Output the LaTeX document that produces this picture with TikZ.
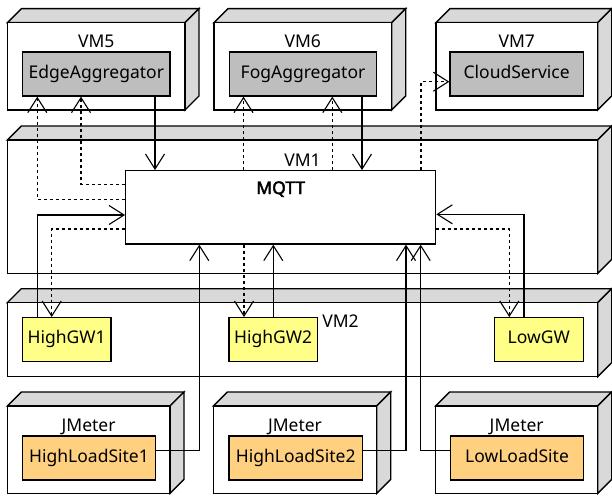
\documentclass[tikz,border=0pt]{standalone}
\usepackage{fontspec}
\setmainfont{Noto Sans}
\newfontfamily\mqttbold{Noto Sans}[FakeBold=2.6]
\usetikzlibrary{arrows.meta}
\definecolor{sidegray}{RGB}{217,217,217}
\definecolor{compgray}{RGB}{190,190,190}
\definecolor{gwyellow}{RGB}{255,255,136}
\definecolor{siteorange}{RGB}{255,208,128}
\tikzset{
  boxline/.style={draw=black, line width=1.4pt, line join=miter},
  comp/.style={draw=black, line width=1.3pt, inner sep=0pt, text height=26pt, text depth=18pt, minimum height=44pt},
  lbl/.style={anchor=base, inner sep=0pt},
  tip/.style={-{Straight Barb[length=15pt,width=19pt,line width=1.1pt]}},
  flow/.style={tip, draw=black, line width=1.2pt},
  dep/.style={tip, draw=black, line width=1.1pt, dash pattern=on 3pt off 3pt},
}
\newcommand\vmbox[5]{%
  \filldraw[boxline, fill=sidegray] (#1,#2) -- (#1+14,#2-14) -- (#3+14,#2-14) -- (#3,#2) -- cycle;
  \filldraw[boxline, fill=sidegray] (#3,#2) -- (#3+14,#2-14) -- (#3+14,#4-14) -- (#3,#4) -- cycle;
  \filldraw[boxline, fill=white] (#1,#2) rectangle (#3,#4);
  \coordinate (#5) at ({(#1+#3)/2},{(#2+#4)/2});
}
\newcommand\comp[7]{%
  \node[comp, fill=#6, minimum width={(#4-#2)*1pt}] (#1) at ({(#2+#4)/2},{(#3+#5)/2}) {#7};
}
\begin{document}
\begin{tikzpicture}[x=1pt,y=-1pt, font=\fontsize{17.5}{20}\selectfont]
\useasboundingbox (0,0) rectangle (612,495);

% containers
\vmbox{7.5}{22.7}{185}{110}{vmfive}
\vmbox{214}{22.7}{391.7}{110}{vmsix}
\vmbox{436}{22.7}{597.7}{110}{vmseven}
\vmbox{7.3}{140}{597.7}{273.3}{vmone}
\vmbox{7.3}{302.7}{597.7}{376.7}{vmtwo}
\vmbox{7.3}{406}{170}{493.3}{jmone}
\vmbox{213.3}{406}{376.7}{493.3}{jmtwo}
\vmbox{435.7}{406}{597.7}{493.3}{jmthree}

% container labels
\node[lbl] (lvm5) at (96.2,47.5) {VM5};
\node[lbl] (lvm6) at (302.8,47.5) {VM6};
\node[lbl] (lvm7) at (516.8,47.5) {VM7};
\node[lbl] (lvm1) at (302.5,166.5) {VM1};
\node[lbl] (lvm2) at (340.5,327.7) {VM2};
\node[lbl] (ljm1) at (88.6,431.3) {JMeter};
\node[lbl] (ljm2) at (295,431.3) {JMeter};
\node[lbl] (ljm3) at (516.7,431.3) {JMeter};

% components
\comp{edge}{22.7}{52}{170}{96}{compgray}{EdgeAggregator}
\comp{fog}{229.3}{52}{376.7}{96}{compgray}{FogAggregator}
\comp{cloud}{450}{52}{583.3}{96}{compgray}{CloudService}
\node[draw=black, line width=1.3pt, fill=white, minimum width=310pt, minimum height=73.3pt, inner sep=0pt] (mqtt) at (280.7,207.35) {};
\node[lbl, font=\fontsize{17.5}{20}\mqttbold] (mqttlbl) at (280.7,194) {MQTT};
\comp{hgw1}{22.3}{317.7}{111}{361.7}{gwyellow}{HighGW1}
\comp{hgw2}{229}{317.7}{317.3}{361.7}{gwyellow}{HighGW2}
\comp{lgw}{494.3}{317.7}{583.3}{361.7}{gwyellow}{LowGW}
\comp{hls1}{22.3}{436}{155.7}{480}{siteorange}{HighLoadSite1}
\comp{hls2}{229}{436}{362.3}{480}{siteorange}{HighLoadSite2}
\comp{lls}{450.7}{436}{583.3}{480}{siteorange}{LowLoadSite}

% connectors
\draw[dep] (mqtt.west |- 0,199.3) -| (edge.south -| 37.3,0);
\draw[dep] (mqtt.west |- 0,184.3) -| (edge.south -| 81,0);
\draw[flow] (edge.south -| 155,0) -- (mqtt.north -| 155,0);
\draw[dep] (mqtt.north -| 243.5,0) -- (fog.south -| 243.5,0);
\draw[dep] (mqtt.north -| 332.3,0) -- (fog.south -| 332.3,0);
\draw[flow] (fog.south -| 362,0) -- (mqtt.north -| 362,0);
\draw[dep] (mqtt.north -| 421,0) |- (cloud.west |- 0,81.7);
\draw[flow] (hgw1.north -| 37.3,0) |- (mqtt.west |- 0,215);
\draw[dep] (mqtt.west |- 0,229) -| (hgw1.north -| 51.7,0);
\draw[dep] (mqtt.south -| 244,0) -- (hgw2.north -| 244,0);
\draw[flow] (hgw2.north -| 273.3,0) -- (mqtt.south -| 273.3,0);
\draw[flow] (hls1.east |- 0,450.7) -| (mqtt.south -| 199.3,0);
\draw[flow] (hls2.east |- 0,450.7) -| (mqtt.south -| 406,0);
\draw[flow] (lls.west |- 0,450.7) -| (mqtt.south -| 420.7,0);
\draw[flow] (lgw.north -| 524,0) |- (mqtt.east |- 0,214.3);
\draw[dep] (mqtt.east |- 0,229) -| (lgw.north -| 509.3,0);
\end{tikzpicture}
\end{document}
